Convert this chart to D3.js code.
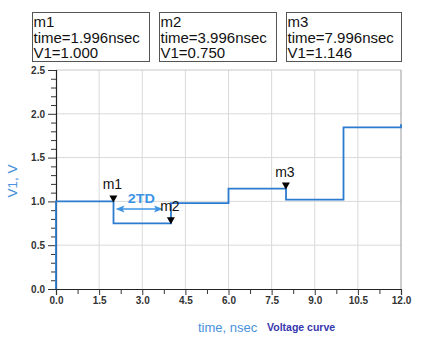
<!DOCTYPE html>
<html><head><meta charset="utf-8">
<script src="https://cdn.jsdelivr.net/npm/d3@7"></script>
<style>body{margin:0;background:#fff}svg{display:block}text{font-family:Arial,"Liberation Sans",sans-serif}</style>
</head><body><svg id="c" width="421" height="340"></svg>
<script>
// Step waveform: times (nsec) and voltage levels (V)
const pointTimes = [0, 0, 2, 4, 6, 8, 10, 12];
const pointValues = [0, 1.0, 0.75, 0.98, 1.146, 1.02, 1.846, 1.88];
// Markers
const markerNames = ["m1", "m2", "m3"];
const markerTimes = [1.996, 3.996, 7.996];
const markerValues = [1.000, 0.750, 1.146];
const markerTimeLabels = ["1.996", "3.996", "7.996"];
const markerValueLabels = ["1.000", "0.750", "1.146"];
// Ticks
const xTicks = [0, 1.5, 3, 4.5, 6, 7.5, 9, 10.5, 12];
const yTicks = [0, 0.5, 1.0, 1.5, 2.0, 2.5];
const xTitle = "time, nsec";
const yTitle = "V1, V";
const caption = "Voltage curve";
const tdLabel = "2TD";
const tdFrom = 2, tdTo = 4, tdLevel = 0.913;

const svg = d3.select("#c");
const L = 56, R = 401, T = 70, B = 289;
const x = d3.scaleLinear().domain([0, 12]).range([L, R]);
const y = d3.scaleLinear().domain([0, 2.5]).range([B, T]);

// grid
const g = svg.append("g");
g.selectAll("line.gx").data(xTicks.slice(1, -1)).join("line")
  .attr("x1", d => x(d)).attr("x2", d => x(d)).attr("y1", T).attr("y2", B)
  .attr("stroke", "#d9d9d9").attr("stroke-width", 1);
g.selectAll("line.gy").data(yTicks.slice(1, -1)).join("line")
  .attr("x1", L).attr("x2", R).attr("y1", d => y(d)).attr("y2", d => y(d))
  .attr("stroke", "#d9d9d9").attr("stroke-width", 1);
// top & right frame
g.append("line").attr("x1", L).attr("x2", R).attr("y1", T).attr("y2", T).attr("stroke", "#c8c8c8");
g.append("line").attr("x1", R).attr("x2", R).attr("y1", T).attr("y2", B).attr("stroke", "#9a9a9a");

// minor ticks
const yMinor = d3.range(0, 2.51, 0.1).map(v => +v.toFixed(2)).filter(v => !yTicks.some(t => Math.abs(t - v) < 1e-6));
const xMinor = xTicks.slice(0, -1).map(v => v + 0.75);

const yAx = svg.append("g").attr("transform", `translate(${L},0)`)
  .call(d3.axisLeft(y).tickValues(yTicks).tickSize(8).tickPadding(3).tickFormat(d3.format(".1f")));
const yAxMinor = svg.append("g").attr("transform", `translate(${L},0)`)
  .call(d3.axisLeft(y).tickValues(yMinor).tickSize(5).tickFormat(""));
yAxMinor.select(".domain").remove();
const xAx = svg.append("g").attr("transform", `translate(0,${B})`)
  .call(d3.axisBottom(x).tickValues(xTicks).tickSize(6).tickPadding(2).tickFormat(d3.format(".1f")));
const xAxMinor = svg.append("g").attr("transform", `translate(0,${B})`)
  .call(d3.axisBottom(x).tickValues(xMinor).tickSize(5).tickFormat(""));
xAxMinor.select(".domain").remove();
[yAx, xAx, yAxMinor, xAxMinor].forEach(a => {
  a.selectAll("path.domain").attr("stroke", "#222").attr("stroke-width", 1.2);
  a.selectAll(".tick line").attr("stroke", "#333");
  a.selectAll("text").attr("font-size", 10).attr("font-family", "Arial, Liberation Sans, sans-serif")
    .attr("fill", "#333").attr("font-weight", "bold");
});

// waveform
const pts = pointTimes.map((t, i) => [t, pointValues[i]]);
svg.append("path").datum(pts)
  .attr("d", d3.line().x(d => x(d[0])).y(d => y(d[1])).curve(d3.curveStepAfter))
  .attr("fill", "none").attr("stroke", "#2b7bd0").attr("stroke-width", 1.8);

// 2TD arrow
const ac = "#3d94e6";
const ay = y(tdLevel);
const ax1 = x(tdFrom) + 2, ax2 = x(tdTo) - 8;
svg.append("line").attr("x1", ax1 + 6).attr("x2", ax2 - 6).attr("y1", ay).attr("y2", ay)
  .attr("stroke", ac).attr("stroke-width", 1.6);
svg.append("path").attr("d", `M${ax1},${ay} l9,-3.5 l-2,3.5 l2,3.5 Z`).attr("fill", ac);
svg.append("path").attr("d", `M${ax2},${ay} l-9,-3.5 l2,3.5 l-2,3.5 Z`).attr("fill", ac);
svg.append("text").attr("x", 0).attr("y", 0).text(tdLabel)
  .attr("transform", `translate(${(x(tdFrom) + x(tdTo)) / 2 - 1},${ay - 6}) scale(1.2,1)`)
  .attr("text-anchor", "middle").attr("font-size", 12).attr("font-weight", "bold").attr("fill", ac);

// markers
const mg = svg.selectAll("g.mk").data(markerNames).join("g");
mg.append("path").attr("d", (d, i) => {
  const px = x(markerTimes[i]), py = y(markerValues[i]) + 1;
  return `M${px},${py} L${px - 4},${py - 7} L${px + 4},${py - 7} Z`;
}).attr("fill", "#000");
mg.append("text")
  .attr("transform", (d, i) => `translate(${x(markerTimes[i]) - 1},${y(markerValues[i]) - 12})`)
  .attr("text-anchor", "middle").attr("font-size", 14).attr("fill", "#111").text(d => d);

// marker readout boxes
const boxX = [32, 159, 286], boxW = [117, 117, 115];
const bg = svg.selectAll("g.bx").data(markerNames).join("g");
bg.append("rect").attr("x", (d, i) => boxX[i] + 0.5).attr("y", 12.5).attr("width", (d, i) => boxW[i]).attr("height", 49)
  .attr("fill", "#fff").attr("stroke", "#555").attr("stroke-width", 1);
bg.each(function (d, i) {
  const lines = [d, "time=" + markerTimeLabels[i] + "nsec", "V1=" + markerValueLabels[i]];
  d3.select(this).selectAll("text").data(lines).join("text")
    .attr("x", boxX[i] + 1.5).attr("y", (s, j) => 27 + j * 15.6)
    .attr("font-size", 15).attr("fill", "#111").text(s => s);
});

// axis titles
svg.append("text").attr("transform", `translate(17,181) rotate(-90)`).attr("text-anchor", "middle")
  .attr("font-size", 13.5).attr("fill", "#4a92dc").text(yTitle);
svg.append("text").attr("x", 198).attr("y", 332).attr("font-size", 13).attr("fill", "#4a92dc").text(xTitle);
svg.append("text").attr("x", 267).attr("y", 331).attr("font-size", 10.5).attr("font-weight", "bold")
  .attr("fill", "#3737b0").text(caption);
</script></body></html>
